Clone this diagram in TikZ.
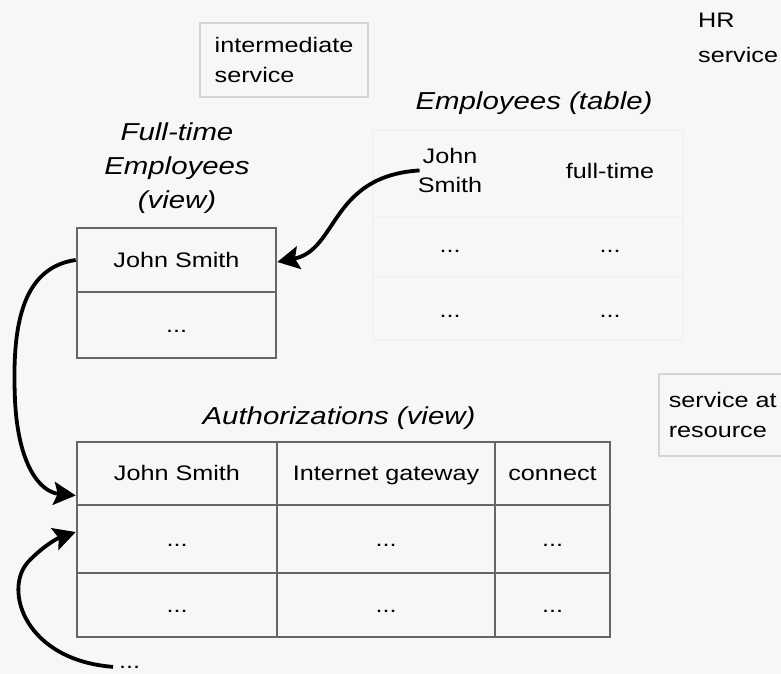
\documentclass[tikz,border=0pt]{standalone}
\usepackage{fontspec}
\setmainfont{Liberation Sans}[FakeStretch=1.2]
\usetikzlibrary{arrows.meta}
\begin{document}
\begin{tikzpicture}[x=1pt,y=-1pt,
  txt/.style={inner sep=0pt, font=\fontsize{21}{30}\selectfont},
  ttl/.style={inner sep=0pt, font=\fontsize{24.5}{34}\selectfont\itshape, align=center},
  cell/.style={draw=black!60, line width=2.6pt, inner sep=0pt, text height=15pt, text depth=1pt,
               font=\fontsize{21}{30}\selectfont},
  faintbox/.style={draw=black!17, line width=1.6pt},
  ghost/.style={draw=black!5, line width=2pt},
  arr/.style={line width=3.8pt, -{Stealth[length=22pt,width=23pt,inset=4pt]}},
  ]
\useasboundingbox[fill=black!3] (0,0) rectangle (781,674);

% faint Employees table grid
\draw[ghost] (373,130) -- (683,130) (373,217) -- (683,217) (373,277) -- (683,277) (373,340) -- (683,340)
             (373,130) -- (373,340) (683,130) -- (683,340);

% labels of services
\node[txt, faintbox, align=left, minimum width=168pt, minimum height=74pt] (inter) at (284,60) {intermediate\\service};
\node[txt, anchor=north west, align=left, font=\fontsize{21}{35}\selectfont] (hr) at (698,13) {HR\\service};
\node[txt, faintbox, anchor=north west, align=left, text width=112pt, inner xsep=10pt, minimum height=82pt] (atres) at (658,373) {service at\\resource};

% Employees table
\node[ttl, anchor=base] (emptitle) at (534,110) {Employees (table)};
\node[txt, align=center, anchor=north, font=\fontsize{21}{29}\selectfont] (ejs) at (450,148) {John\\Smith};
\node[txt, anchor=base] (eft) at (610,178) {full-time};
\node[txt, anchor=base] (e21) at (450,252) {...};
\node[txt, anchor=base] (e22) at (610,252) {...};
\node[txt, anchor=base] (e31) at (450,317) {...};
\node[txt, anchor=base] (e32) at (610,317) {...};

% Full-time Employees view
\node[ttl, anchor=north] (fttitle) at (177,122.5) {Full-time\\Employees\\(view)};
\node[cell, minimum width=199pt, minimum height=64pt] (ft1) at (176.5,260) {John Smith};
\node[cell, minimum width=199pt, minimum height=66pt] (ft2) at (176.5,325) {...};

% Authorizations view
\node[ttl, anchor=base] (autitle) at (339,424) {Authorizations (view)};
\node[cell, minimum width=200pt, minimum height=63pt] (a11) at (177,473.5) {John Smith};
\node[cell, minimum width=218pt, minimum height=63pt] (a12) at (386,473.5) {Internet gateway};
\node[cell, minimum width=115pt, minimum height=63pt] (a13) at (552.5,473.5) {connect};
\node[cell, minimum width=200pt, minimum height=68pt] (a21) at (177,539) {...};
\node[cell, minimum width=218pt, minimum height=68pt] (a22) at (386,539) {...};
\node[cell, minimum width=115pt, minimum height=68pt] (a23) at (552.5,539) {...};
\node[cell, minimum width=200pt, minimum height=64pt] (a31) at (177,605) {...};
\node[cell, minimum width=218pt, minimum height=64pt] (a32) at (386,605) {...};
\node[cell, minimum width=115pt, minimum height=64pt] (a33) at (552.5,605) {...};

\node[txt, anchor=base west] (more) at (119,668) {...};

% arrows
\draw[arr] ([xshift=2pt]ejs.west) .. controls (330,176) and (338,250) .. ([yshift=-2pt]ft1.east);
\draw[arr] (ft1.west) .. controls (20,268) and (12,330) .. (15,400) .. controls (18,465) and (40,492) .. ([yshift=-22pt]a11.west);
\draw[arr] ([xshift=-6pt]more.west) .. controls (25,660) and (3,590) .. (28,562) .. controls (43,546) and (58,538) .. ([yshift=7pt]a21.west);
\end{tikzpicture}
\end{document}
